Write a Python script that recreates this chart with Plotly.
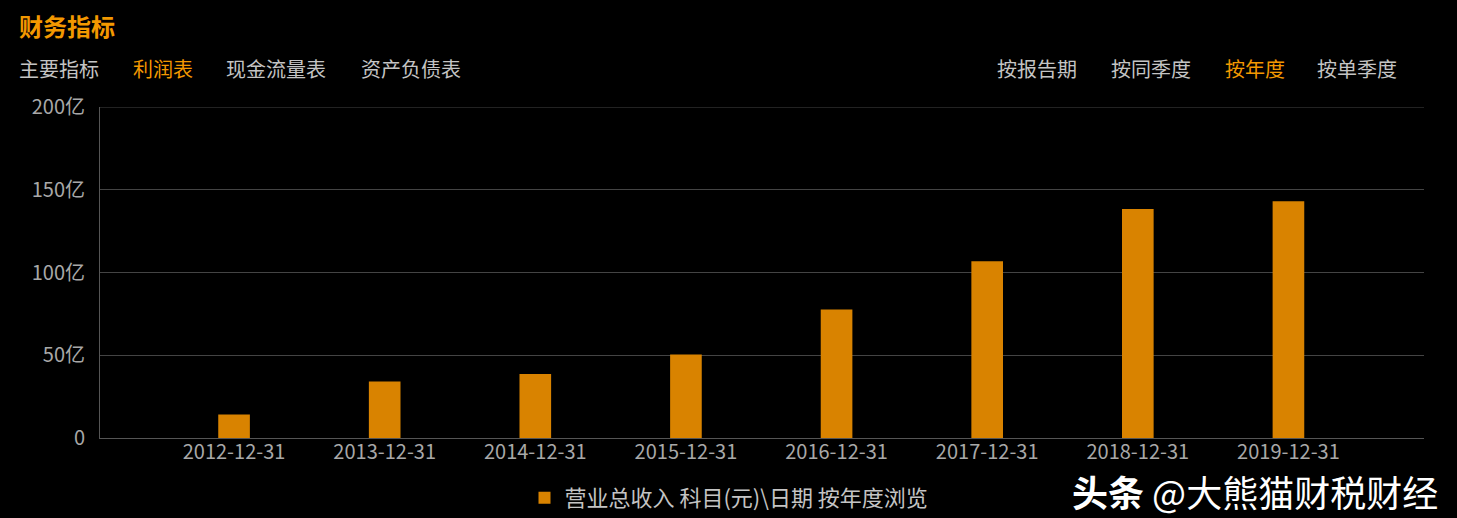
import plotly.graph_objects as go

# ---- data (values in 亿元) ----
categories = ["2012-12-31", "2013-12-31", "2014-12-31", "2015-12-31",
              "2016-12-31", "2017-12-31", "2018-12-31", "2019-12-31"]
revenue = [14.2, 34.1, 38.6, 50.5, 77.7, 106.8, 138.4, 143.1]
series_name = "营业总收入 科目(元)\\日期 按年度浏览"
y_tickvals = [0, 50, 100, 150, 200]
y_ticktext = ["0", "50亿", "100亿", "150亿", "200亿"]
title_text = "财务指标"
left_tabs = ["主要指标", "利润表", "现金流量表", "资产负债表"]
right_tabs = ["按报告期", "按同季度", "按年度", "按单季度"]
watermark = "<b>头条</b> @大熊猫财税财经"

# ---- layout geometry (pixels) ----
W, H = 1457, 518
L, R, T, B = 100, 1424, 107, 438
CJK = "Noto Sans CJK SC"
ORANGE = "#f39800"
GREY = "#c4c4c4"
TICK = "#a8a8a8"
BAR = "#d98300"


def cx(x):
    return x / W


def cy(y):
    return 1 - y / H


fig = go.Figure()
fig.add_trace(go.Bar(
    x=list(range(len(categories))), y=revenue, name=series_name,
    marker=dict(color=BAR, line=dict(width=0)), width=0.21,
    showlegend=True,
))

annotations = []


def label(text, x, y, size, color, anchor="left"):
    annotations.append(dict(text=text, x=cx(x), y=cy(y), xref="paper", yref="paper",
                            xanchor=anchor, yanchor="middle", showarrow=False,
                            font=dict(family=CJK, size=size, color=color)))


label(f"<b>{title_text}</b>", 17, 25, 24, ORANGE)
left_x = [17, 131, 224, 359]
for i, (t, x) in enumerate(zip(left_tabs, left_x)):
    label(t, x, 68, 20, ORANGE if i == 1 else GREY)
right_x = [995, 1109, 1223, 1315]
for i, (t, x) in enumerate(zip(right_tabs, right_x)):
    label(t, x, 68, 20, ORANGE if i == 2 else GREY)
label(watermark, 1440, 491, 36, "#ffffff", anchor="right")

# annotations above use paper coords; convert pixel -> paper for the fixed plot area
for a in annotations:
    a["x"] = (a["x"] * W - L) / (R - L)
    a["y"] = ((1 - a["y"]) * H - B) / (T - B)

fig.add_shape(type="line", xref="paper", yref="y", x0=0, x1=1, y0=200, y1=200,
              line=dict(color="#444444", width=1), layer="below")

fig.update_layout(
    width=W, height=H,
    margin=dict(l=L, r=W - R, t=T, b=H - B, autoexpand=False),
    paper_bgcolor="#000000", plot_bgcolor="#000000",
    font=dict(family=CJK, color=GREY),
    xaxis=dict(
        tickmode="array", tickvals=list(range(len(categories))), ticktext=categories,
        range=[-0.89, 7.9], showgrid=False, zeroline=False,
        showline=True, linecolor="#555555", linewidth=1, automargin=False,
        ticks="", ticklabelstandoff=-4, tickfont=dict(family=CJK, size=20, color=TICK),
        fixedrange=True,
    ),
    yaxis=dict(
        range=[0, 200], tickmode="array", tickvals=y_tickvals, ticktext=y_ticktext,
        showgrid=True, gridcolor="#444444", gridwidth=1, zeroline=False,
        showline=True, linecolor="#555555", linewidth=1, automargin=False,
        ticks="", ticklabelstandoff=10,
        tickfont=dict(family=CJK, size=20, color=TICK),
        fixedrange=True,
    ),
    legend=dict(orientation="h", xref="container", yref="container",
                x=cx(729), y=cy(498), xanchor="center", yanchor="middle",
                font=dict(family=CJK, size=22, color=GREY), bgcolor="rgba(0,0,0,0)",
                itemsizing="constant"),
    annotations=annotations,
)

fig.write_html("out.html", config={"displayModeBar": False},
               post_script="document.body.style.margin='0';document.body.style.background='#000';")
